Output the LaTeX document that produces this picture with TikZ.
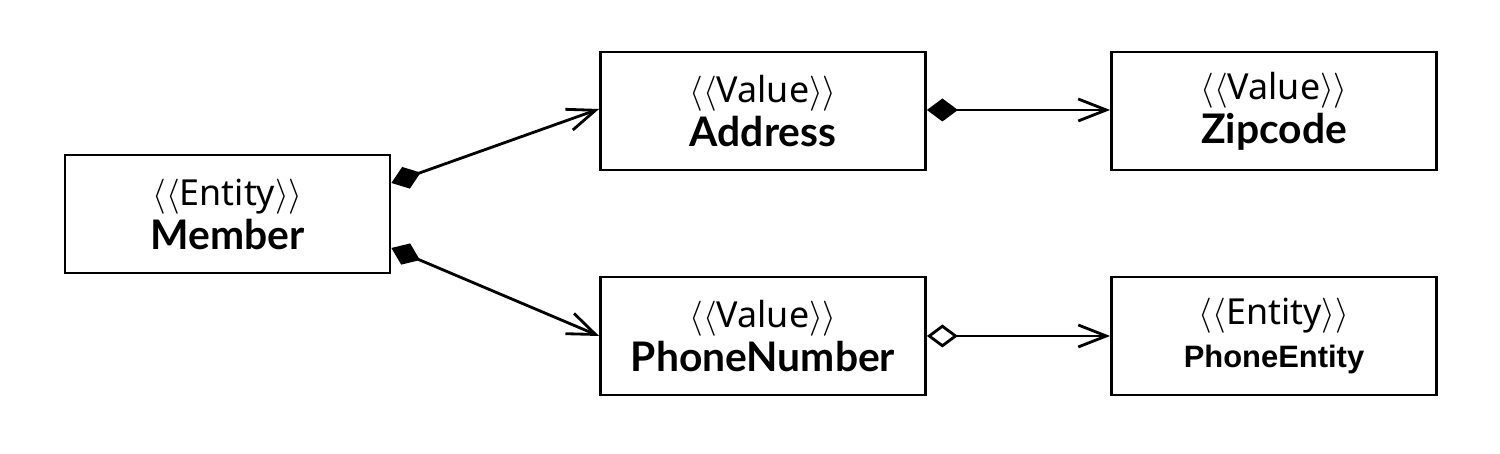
\documentclass[tikz,border=0pt]{standalone}
\usepackage{fontspec}
\setmainfont{Noto Sans}
\newfontfamily\namefont{Lato}
\newfontfamily\arialfont{Liberation Sans}
\usetikzlibrary{arrows.meta}

\newcommand{\stereo}[1]{{\fontsize{10.2}{12}\selectfont$\langle\langle$#1$\rangle\rangle$}}
\newcommand{\cname}[1]{{\namefont\fontsize{11.6}{13}\selectfont\bfseries #1}}

\begin{document}
\begin{tikzpicture}[line width=0.8pt,
  classbox/.style={draw, minimum width=3.25cm, minimum height=1.18cm, align=center, inner sep=0pt},
  comp/.style={{Diamond[length=3.1mm,width=2.3mm]}-{Straight Barb[length=2.8mm,width=2.2mm]}},
  aggr/.style={{Diamond[open,length=3.1mm,width=2.3mm]}-{Straight Barb[length=2.8mm,width=2.2mm]}}]
\useasboundingbox (0,0) rectangle (15,4.54);
% classes
\node[classbox] (member) at (2.275,2.40) {\stereo{Entity}\\[0.5pt] \cname{Member}};
\node[classbox] (address) at (7.63,3.43) {\stereo{Value}\\[0.5pt] \cname{Address}};
\node[classbox] (zipcode) at (12.74,3.43) {\stereo{Value}\\[0.5pt] \cname{Zipcode}};
\node[classbox] (phone) at (7.63,1.18) {\stereo{Value}\\[0.5pt] \cname{PhoneNumber}};
\node[classbox] (phoneent) at (12.74,1.18) {\stereo{Entity}\\[0.5pt] {\arialfont\fontsize{8.8}{13}\selectfont\bfseries PhoneEntity}};
% associations
\draw[comp] ([yshift=3.1mm]member.east) -- ([yshift=0.2mm]address.west);
\draw[comp] ([yshift=-3.4mm]member.east) -- ([yshift=0mm]phone.west);
\draw[comp] ([yshift=0.1mm]address.east) -- ([yshift=0.1mm]zipcode.west);
\draw[aggr] (phone.east) -- (phoneent.west);
\end{tikzpicture}
\end{document}
